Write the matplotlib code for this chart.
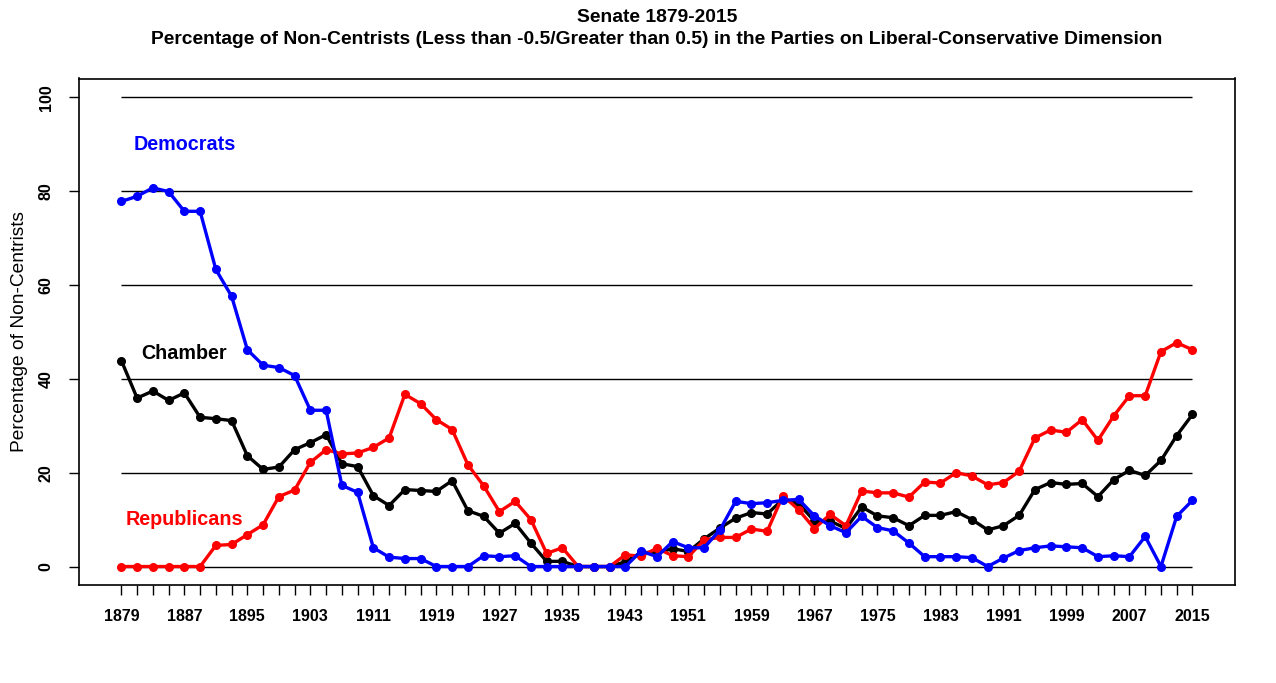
import matplotlib
matplotlib.use("Agg")
import matplotlib.pyplot as plt
import numpy as np

years = list(range(1879, 2016, 2))

democrats = [77.8, 78.9, 80.7, 79.9, 75.7, 75.7, 63.3, 57.6, 46.2, 42.9,
             42.4, 40.7, 33.3, 33.3, 17.3, 15.8, 4.0, 2.0, 1.7, 1.7,
             0.0, 0.0, 0.0, 2.3, 2.1, 2.3, 0.0, 0.0, 0.0, 0.0,
             0.0, 0.0, 0.0, 3.3, 2.1, 5.3, 4.0, 4.0, 7.8, 13.9,
             13.4, 13.6, 14.1, 14.3, 10.8, 8.7, 7.2, 10.7, 8.3, 7.6,
             5.0, 2.1, 2.1, 2.1, 1.9, 0.0, 1.8, 3.4, 4.0, 4.4,
             4.2, 4.0, 2.1, 2.3, 2.1, 6.4, 0.0, 10.7, 14.1]

republicans = [0.0, 0.0, 0.0, 0.0, 0.0, 0.0, 4.5, 4.7, 6.8, 8.9,
               14.9, 16.3, 22.2, 24.9, 24.0, 24.2, 25.4, 27.4, 36.7, 34.7,
               31.3, 29.2, 21.7, 17.2, 11.7, 13.9, 10.0, 2.8, 4.0, 0.0,
               0.0, 0.0, 2.5, 2.2, 3.9, 2.3, 2.1, 5.7, 6.2, 6.2,
               8.0, 7.5, 15.1, 12.1, 8.1, 11.1, 8.7, 16.1, 15.7, 15.7,
               14.8, 18.0, 17.8, 20.0, 19.3, 17.4, 17.9, 20.3, 27.4, 29.1,
               28.6, 31.3, 26.9, 32.1, 36.4, 36.4, 45.8, 47.7, 46.2]

chamber = [43.9, 35.9, 37.4, 35.4, 37.0, 31.8, 31.5, 31.1, 23.6, 20.7,
           21.2, 24.9, 26.4, 28.1, 21.9, 21.3, 15.1, 13.0, 16.4, 16.2,
           16.0, 18.3, 11.9, 10.7, 7.1, 9.2, 5.0, 1.1, 1.1, 0.0,
           0.0, 0.0, 1.0, 3.0, 3.0, 3.8, 3.2, 5.9, 8.2, 10.3,
           11.5, 11.2, 14.3, 13.4, 9.7, 9.7, 8.1, 12.7, 10.8, 10.4,
           8.7, 10.9, 10.9, 11.7, 10.0, 7.8, 8.7, 10.9, 16.4, 17.9,
           17.5, 17.7, 14.9, 18.5, 20.5, 19.4, 22.6, 27.9, 32.4]

xtick_labels = list(range(1879, 2016, 8))
yticks = [0, 20, 40, 60, 80, 100]

plt.rcParams['font.family'] = ['Liberation Sans', 'DejaVu Sans']

W, H = 1276, 683
L, R, T, B = 78.5, 1235.3, 78.5, 585.3
fig = plt.figure(figsize=(W / 100, H / 100), dpi=100)
ax = fig.add_axes([L / W, 1 - B / H, (R - L) / W, (B - T) / H])

ax.hlines(yticks, years[0], years[-1], colors='black', linewidth=1.0, zorder=1)

lw = 2.4
ms = 5.5
ax.plot(years, chamber, color='black', linewidth=lw, marker='o', markersize=ms, zorder=3)
ax.plot(years, republicans, color='#ff0000', linewidth=lw, marker='o', markersize=ms, zorder=4)
ax.plot(years, democrats, color='#0000ff', linewidth=lw, marker='o', markersize=ms, zorder=5)

ax.text(1887, 90, 'Democrats', color='#0000ff', fontsize=14.2, fontweight='bold', ha='center', va='center')
ax.text(1887, 45.5, 'Chamber', color='black', fontsize=14.2, fontweight='bold', ha='center', va='center')
ax.text(1887, 10, 'Republicans', color='#ff0000', fontsize=14.2, fontweight='bold', ha='center', va='center')

ax.set_xlim(1879 - 0.04 * 136, 2015 + 0.04 * 136)
ax.set_ylim(-4, 104)

ax.set_xticks(years, minor=True)
ax.set_xticks(xtick_labels)
ax.set_xticklabels([str(y) for y in xtick_labels], fontsize=11.5, fontweight='bold')
ax.tick_params(axis='x', which='both', length=7, width=1.0, direction='out', pad=10)
ax.tick_params(axis='x', which='minor', labelbottom=False)

ax.set_yticks(yticks)
ax.set_yticklabels([str(y) for y in yticks], fontsize=11.5, fontweight='bold', rotation=90, va='center')
ax.tick_params(axis='y', length=7, width=1.0, direction='out', pad=11)

ax.set_ylabel('Percentage of Non-Centrists', fontsize=13.8)
ax.yaxis.set_label_coords(-50.2 / (R - L), 0.5)

for s in ax.spines.values():
    s.set_linewidth(1.2)

cx = ((L + R) / 2) / W
fig.text(cx, 1 - 17 / H, 'Senate 1879-2015', ha='center', va='center', fontsize=13.9, fontweight='bold')
fig.text(cx, 1 - 40 / H,
         'Percentage of Non-Centrists (Less than -0.5/Greater than 0.5) in the Parties on Liberal-Conservative Dimension',
         ha='center', va='center', fontsize=13.9, fontweight='bold')

fig.savefig('out.png', dpi=100)
